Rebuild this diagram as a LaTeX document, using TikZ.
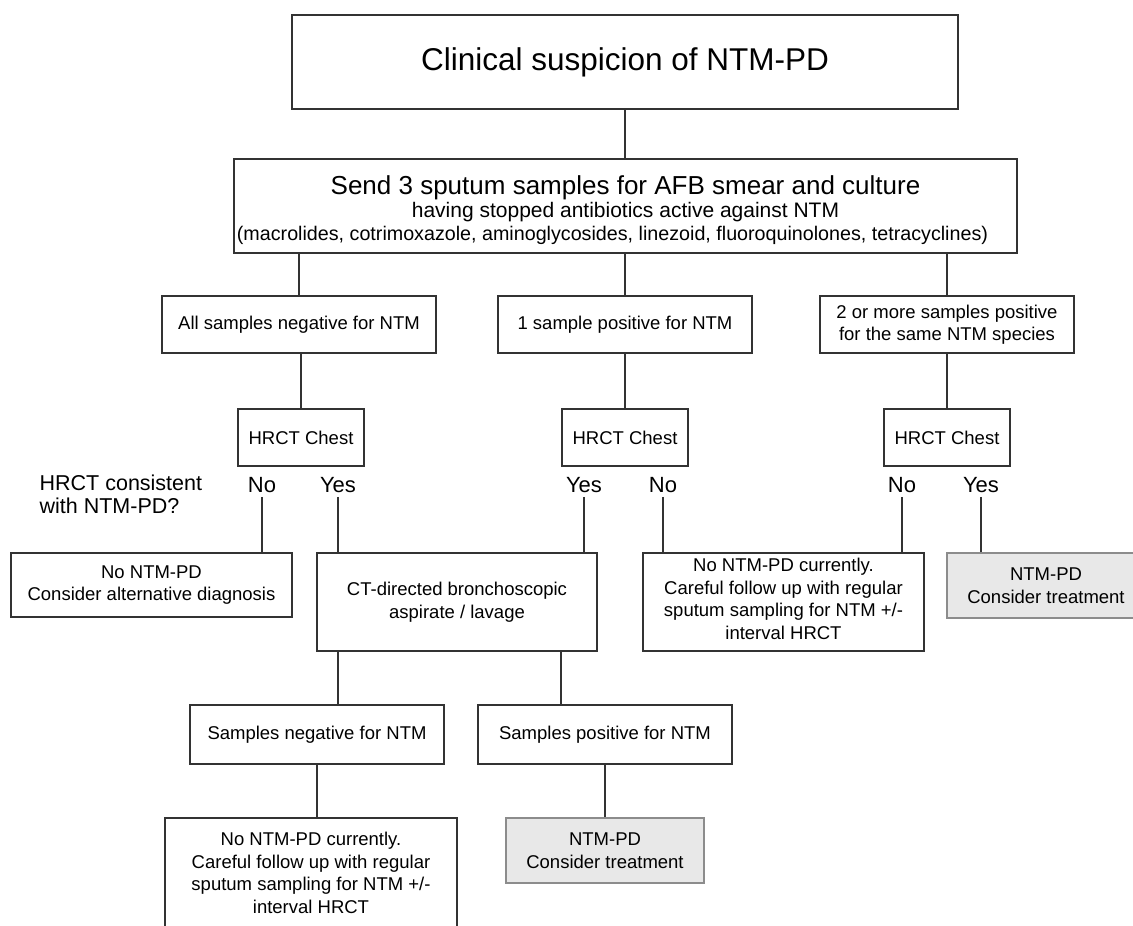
\documentclass[tikz,border=0pt]{standalone}
\usepackage{fontspec}
\setmainfont{Liberation Sans}
\begin{document}
\begin{tikzpicture}[x=1pt, y=-1pt, line width=1.3pt, draw=black!80,
  box/.style={draw=black!80, align=center, inner sep=0pt, font=\fontsize{18.5pt}{22.5pt}\selectfont},
  grey box/.style={box, draw=black!45, fill=black!9},
  answer/.style={font=\fontsize{22pt}{24pt}\selectfont, inner xsep=0pt, inner ysep=4pt, anchor=base}]
\useasboundingbox (0,0) rectangle (1133,926);
\node [box, minimum width=666pt, minimum height=94pt, font=\fontsize{31.5pt}{34pt}\selectfont] (susp) at (625,62) {Clinical suspicion of NTM-PD};
\node [box, minimum width=783pt, minimum height=94pt, font=\fontsize{19.7pt}{23pt}\selectfont] (send) at (625.5,206) {{\fontsize{26pt}{23pt}\selectfont\rule{0pt}{27pt}Send 3 sputum samples for AFB smear and culture}\\ {\fontsize{21pt}{23pt}\selectfont having stopped antibiotics active against NTM}\\ (macrolides, cotrimoxazole, aminoglycosides, linezoid, fluoroquinolones, tetracyclines)\hspace*{26pt}};
\node [box, minimum width=274pt, minimum height=57pt] (allneg) at (299,324.5) {All samples negative for NTM};
\node [box, minimum width=254pt, minimum height=57pt] (onepos) at (625,324.5) {1 sample positive for NTM};
\node [box, minimum width=254pt, minimum height=57pt] (twopos) at (947,324.5) {2 or more samples positive\\ for the same NTM species};
\node [box, minimum width=126pt, minimum height=57pt] (ctA) at (301,437.5) {HRCT Chest};
\node [box, minimum width=126pt, minimum height=57pt] (ctB) at (625,437.5) {HRCT Chest};
\node [box, minimum width=126pt, minimum height=57pt] (ctC) at (947,437.5) {HRCT Chest};
\node [anchor=west, align=left, inner sep=0pt, font=\fontsize{21.5pt}{23pt}\selectfont] (question) at (39,494) {HRCT consistent\\ with NTM-PD?};
\node [answer] (noA) at (262,492) {No};
\node [answer] (yesA) at (338,492) {Yes};
\node [answer] (yesB) at (584,492) {Yes};
\node [answer] (noB) at (663,492) {No};
\node [answer] (noC) at (902,492) {No};
\node [answer] (yesC) at (981,492) {Yes};
\node [box, minimum width=281pt, minimum height=64pt] (nodis) at (151.5,585) {No NTM-PD\\ Consider alternative diagnosis};
\node [box, minimum width=280pt, minimum height=98pt] (bronch) at (457,602) {CT-directed bronchoscopic\\ aspirate / lavage};
\node [box, minimum width=281pt, minimum height=98pt] (follow) at (783.5,602) {No NTM-PD currently.\\ Careful follow up with regular\\ sputum sampling for NTM +/-\\ interval HRCT\rule[-6pt]{0pt}{6pt}};
\node [grey box, minimum width=198pt, minimum height=65pt] (treatR) at (1046,585.5) {NTM-PD\\ Consider treatment};
\node [box, minimum width=254pt, minimum height=59pt] (sneg) at (317,734.5) {Samples negative for NTM};
\node [box, minimum width=254pt, minimum height=59pt] (spos) at (605,734.5) {Samples positive for NTM};
\node [box, minimum width=292pt, minimum height=116pt] (followB) at (311,876) {No NTM-PD currently.\\ Careful follow up with regular\\ sputum sampling for NTM +/-\\ interval HRCT\rule[-6pt]{0pt}{6pt}};
\node [grey box, minimum width=198pt, minimum height=65pt] (treatB) at (605,850.5) {NTM-PD\\ Consider treatment};
\coordinate (bronchR) at (561,651);
\draw (susp.south) -- (susp.south |- send.north);
\draw (allneg.north |- send.south) -- (allneg.north);
\draw (onepos.north |- send.south) -- (onepos.north);
\draw (twopos.north |- send.south) -- (twopos.north);
\draw (ctA.north |- allneg.south) -- (ctA.north);
\draw (ctB.north |- onepos.south) -- (ctB.north);
\draw (ctC.north |- twopos.south) -- (ctC.north);
\foreach \a/\b in {noA/nodis, yesA/bronch, yesB/bronch, noB/follow, noC/follow, yesC/treatR}
  \draw (\a.south) -- (\a.south |- \b.north);
\draw (yesA |- bronch.south) -- (yesA |- sneg.north);
\draw (bronchR) -- (bronchR |- spos.north);
\draw (sneg.south) -- (sneg.south |- followB.north);
\draw (spos.south) -- (treatB.north);
\end{tikzpicture}
\end{document}
